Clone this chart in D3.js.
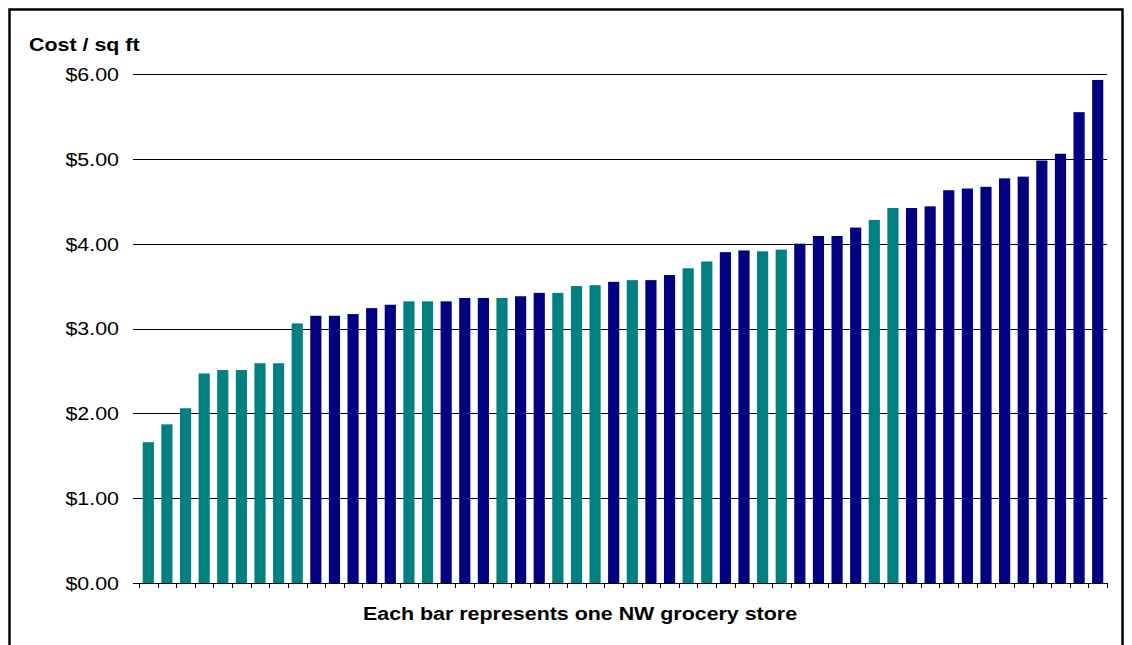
<!DOCTYPE html>
<html>
<head>
<meta charset="utf-8">
<script src="https://cdn.jsdelivr.net/npm/d3@7"></script>
<style>
  body { margin: 0; background: #fff; }
  svg { display: block; font-family: "Liberation Sans", Arial, sans-serif; }
</style>
</head>
<body>
<svg id="chart" width="1132" height="645"></svg>
<script>
// one bar per store, sorted by cost
var costs = [1.66, 1.87, 2.06, 2.47, 2.51, 2.51, 2.59, 2.59, 3.06, 3.15,
             3.15, 3.17, 3.24, 3.28, 3.32, 3.32, 3.32, 3.36, 3.36, 3.36,
             3.38, 3.42, 3.42, 3.50, 3.51, 3.55, 3.57, 3.57, 3.63, 3.71,
             3.79, 3.90, 3.92, 3.91, 3.93, 4.00, 4.09, 4.09, 4.19, 4.28,
             4.42, 4.42, 4.44, 4.63, 4.65, 4.67, 4.77, 4.79, 4.98, 5.06,
             5.55, 5.93];

// "t" = teal bar, "n" = navy bar
var groups = ["t", "t", "t", "t", "t", "t", "t", "t", "t", "n",
              "n", "n", "n", "n", "t", "t", "n", "n", "n", "t",
              "n", "n", "t", "t", "t", "n", "t", "n", "n", "t",
              "t", "n", "n", "t", "t", "n", "n", "n", "n", "t",
              "t", "n", "n", "n", "n", "n", "n", "n", "n", "n",
              "n", "n"];

var yTicks = [0, 1, 2, 3, 4, 5, 6];

var stores = costs.map(function(d, i) { return i + 1; });
var colors = { t: "#008080", n: "#000080" };

var svg = d3.select("#chart"),
    left = 139, right = 1107, top = 70, bottom = 583,
    stretch = 1.19;   // text in the original is wider than it is tall

var x = d3.scaleBand()
    .domain(stores)
    .range([left, right])
    .paddingInner(0.4)
    .paddingOuter(0.2);

var y = d3.scaleLinear()
    .domain([0, 6])
    .range([bottom, 74]);

// outer frame (bottom edge runs off the page)
svg.append("rect")
    .attr("x", 9.5).attr("y", 9.5)
    .attr("width", 1113).attr("height", 700)
    .attr("fill", "none")
    .attr("stroke", "#000")
    .attr("stroke-width", 2.5);

// plot area border
svg.append("rect")
    .attr("x", left).attr("y", top + 0.5)
    .attr("width", right - left).attr("height", bottom - top)
    .attr("fill", "none")
    .attr("stroke", "#808080")
    .attr("stroke-width", 1);

// gridlines
svg.append("g")
    .attr("transform", "translate(" + left + ",0)")
    .call(d3.axisLeft(y).tickValues(yTicks.slice(1)).tickSize(-(right - left)).tickFormat(""))
    .call(function(g) {
      g.select(".domain").remove();
      g.selectAll("line").attr("stroke", "#000").attr("shape-rendering", "crispEdges");
    });

// bars
svg.append("g").selectAll("rect")
    .data(costs)
    .enter().append("rect")
    .attr("x", function(d, i) { return x(stores[i]); })
    .attr("width", x.bandwidth())
    .attr("y", function(d) { return y(d); })
    .attr("height", function(d) { return y(0) - y(d); })
    .attr("fill", function(d, i) { return colors[groups[i]]; });

// y axis
svg.append("g")
    .attr("transform", "translate(" + left + ",0)")
    .call(d3.axisLeft(y).tickValues(yTicks).tickSize(6).tickPadding(0).tickFormat(d3.format("$.2f")))
    .call(function(g) {
      g.select(".domain").attr("d", "M0.5," + top + "V" + bottom).attr("stroke", "#000");
      g.selectAll("line").attr("stroke", "#000").attr("shape-rendering", "crispEdges");
      g.selectAll("text")
          .attr("x", -20 / stretch)
          .attr("dy", "0.36em")
          .attr("transform", "scale(" + stretch + ",1)")
          .attr("font-size", 18)
          .attr("fill", "#000");
    });

// x axis line and ticks on category boundaries
var bounds = stores.map(function(d) { return x(d) - x.step() * x.paddingInner() / 2; });
bounds.push(right);

var xAxis = svg.append("g");
xAxis.append("line")
    .attr("x1", left).attr("x2", right)
    .attr("y1", bottom + 0.5).attr("y2", bottom + 0.5)
    .attr("stroke", "#000");
xAxis.selectAll("line.tick")
    .data(bounds)
    .enter().append("line")
    .attr("class", "tick")
    .attr("x1", function(d) { return Math.round(d) + 0.5; })
    .attr("x2", function(d) { return Math.round(d) + 0.5; })
    .attr("y1", bottom).attr("y2", bottom + 5)
    .attr("stroke", "#000");

// titles
svg.append("text")
    .attr("transform", "translate(29,51) scale(" + stretch + ",1)")
    .attr("font-size", 18)
    .attr("font-weight", "bold")
    .text("Cost / sq ft");

svg.append("text")
    .attr("transform", "translate(580,620) scale(" + stretch + ",1)")
    .attr("text-anchor", "middle")
    .attr("font-size", 18)
    .attr("font-weight", "bold")
    .text("Each bar represents one NW grocery store");
</script>
</body>
</html>
